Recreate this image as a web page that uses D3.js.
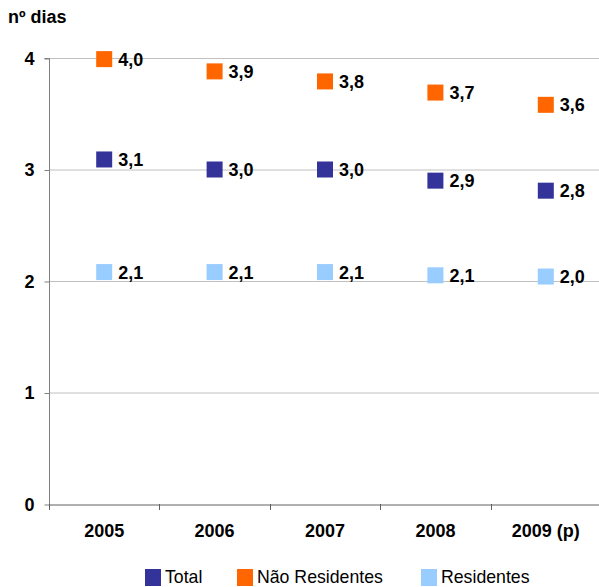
<!DOCTYPE html>
<html>
<head>
<meta charset="utf-8">
<script src="https://cdn.jsdelivr.net/npm/d3@7"></script>
<style>
  html, body { margin: 0; padding: 0; background: #fff; }
  svg { display: block; font-family: "Liberation Sans", Arial, sans-serif; }
</style>
</head>
<body>
<svg id="chart" width="599" height="587"></svg>
<script>
const categories = ["2005", "2006", "2007", "2008", "2009 (p)"];
const seriesNames = ["Total", "Não Residentes", "Residentes"];
const totalValues = [3.09, 3.0, 3.0, 2.9, 2.81];
const naoResidentesValues = [3.99, 3.88, 3.79, 3.69, 3.58];
const residentesValues = [2.08, 2.08, 2.08, 2.051, 2.04];
const yTicks = [0, 1, 2, 3, 4];
const yTitle = "nº dias";
const colors = ["#333399", "#FF6600", "#99CCFF"];

(function () {
const series = [
  { name: seriesNames[0], values: totalValues, color: colors[0] },
  { name: seriesNames[1], values: naoResidentesValues, color: colors[1] },
  { name: seriesNames[2], values: residentesValues, color: colors[2] }
];

const svg = d3.select("#chart");
const mLeft = 49, mRight = 601, mTop = 58, mBottom = 504;
const FF = "Liberation Sans, Arial, sans-serif";

const x = d3.scaleBand().domain(categories).range([mLeft, mRight]).paddingInner(0).paddingOuter(0);
const y = d3.scaleLinear().domain([0, 4]).range([mBottom, mTop]);

// gridlines
svg.append("g").selectAll("line").data(yTicks.filter(t => t > 0)).join("line")
  .attr("x1", mLeft).attr("x2", 599)
  .attr("y1", d => y(d) + 0.5).attr("y2", d => y(d) + 0.5)
  .attr("stroke", "#c0c0c0").attr("stroke-width", 1);

// y axis
const yAxis = svg.append("g").attr("transform", `translate(${mLeft + 0.5},0)`)
  .call(d3.axisLeft(y).tickValues(yTicks).tickSize(5).tickPadding(10).tickFormat(d3.format("d")));
yAxis.select(".domain").attr("stroke", "#808080").attr("d", `M-5,${y(4)+0.5}H0V${mBottom+0.5}`);
yAxis.selectAll(".tick line").attr("stroke", "#808080").attr("transform", "translate(0,0.5)");
yAxis.selectAll(".tick text").attr("font-size", "18px").attr("font-weight", "bold")
  .attr("fill", "#000").attr("font-family", FF).attr("dy", "0.36em");

// x axis
const xAxis = svg.append("g").attr("transform", `translate(0,${mBottom + 0.5})`)
  .call(d3.axisBottom(x).tickSize(0).tickPadding(20));
xAxis.select(".domain").attr("stroke", "#606060");
xAxis.selectAll(".tick text").attr("font-size", "18px").attr("font-weight", "bold")
  .attr("fill", "#000").attr("font-family", FF);
// boundary ticks
svg.append("g").selectAll("line").data(categories.concat(["_end"])).join("line")
  .attr("x1", (d, i) => Math.round(mLeft + i * x.bandwidth()) + 0.5)
  .attr("x2", (d, i) => Math.round(mLeft + i * x.bandwidth()) + 0.5)
  .attr("y1", mBottom).attr("y2", mBottom + 6)
  .attr("stroke", "#606060");

// title
svg.append("text").attr("x", 8).attr("y", 23).text(yTitle)
  .attr("font-size", "18px").attr("font-weight", "bold").attr("fill", "#000");

// markers and labels
const fmt = v => d3.format(".1f")(v).replace(".", ",");
const ms = 16;
series.forEach(s => {
  const g = svg.append("g");
  g.selectAll("rect").data(s.values).join("rect")
    .attr("x", (d, i) => x(categories[i]) + x.bandwidth() / 2 - ms / 2)
    .attr("y", d => y(d) - ms / 2)
    .attr("width", ms).attr("height", ms)
    .attr("fill", s.color);
  g.selectAll("text").data(s.values).join("text")
    .attr("x", (d, i) => x(categories[i]) + x.bandwidth() / 2 + ms / 2 + 6)
    .attr("y", d => y(d))
    .attr("dy", "0.36em")
    .attr("font-size", "18px").attr("font-weight", "bold").attr("fill", "#000")
    .text(d => fmt(d));
});

// legend
const legendX = [145, 237, 421];
const legend = svg.append("g");
series.forEach((s, i) => {
  legend.append("rect").attr("x", legendX[i]).attr("y", 569).attr("width", 16).attr("height", 17).attr("fill", s.color);
  legend.append("text").attr("x", legendX[i] + 20).attr("y", 583).text(s.name)
    .attr("font-size", "17.7px").attr("fill", "#000");
});
})();
</script>
</body>
</html>
